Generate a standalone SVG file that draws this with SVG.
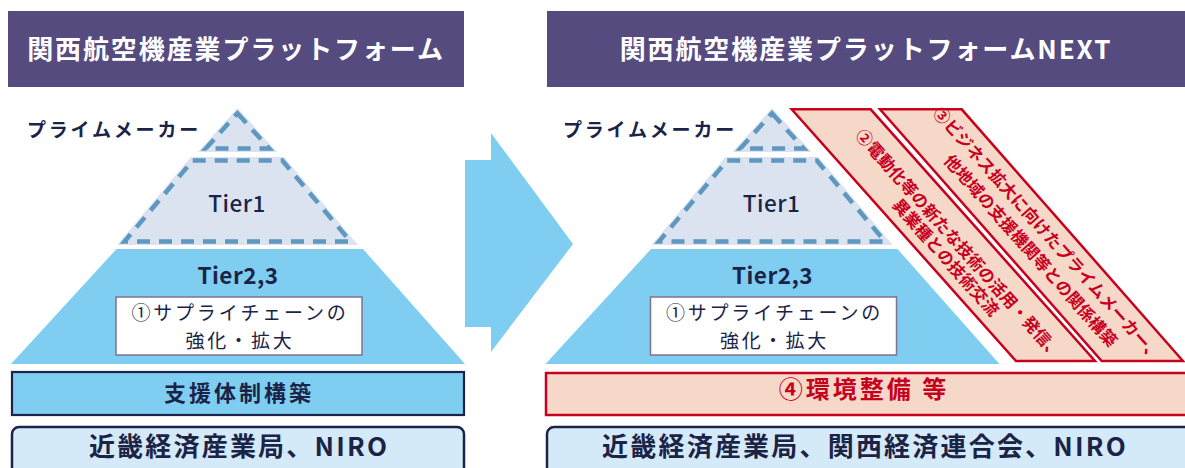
<svg xmlns="http://www.w3.org/2000/svg" width="1185" height="468" viewBox="0 0 1185 468">
<style>
text{font-family:"Noto Sans CJK JP","Noto Sans",sans-serif}
.hdr{fill:#564b7f}
.hdrt{fill:#ffffff;font-size:26px;font-weight:700;letter-spacing:1.9px;text-anchor:middle}
.pale{fill:#dae3ef}
.dash{fill:none;stroke:#5e97c0;stroke-width:4.5;stroke-dasharray:13 9;stroke-linejoin:miter}
.sky{fill:#7fcef2}
.navy{fill:#1b2447}
.pm{font-size:19px;font-weight:700;letter-spacing:2.8px}
.tier{font-size:22.5px;font-weight:500;text-anchor:middle;letter-spacing:0.5px}
.tier23{font-size:22.5px;font-weight:700;text-anchor:middle;letter-spacing:0.5px}
.wbox{fill:#ffffff;stroke:#7d7194;stroke-width:1.5}
.wt{font-size:19px;font-weight:400;text-anchor:middle;letter-spacing:2.8px}
.sup{fill:#7fcef2;stroke:#1b2447;stroke-width:2.2}
.supt{font-size:22px;font-weight:700;text-anchor:middle;letter-spacing:3px}
.org{fill:#d4eaf8;stroke:#1b2447;stroke-width:2.5}
.orgt{font-size:26px;font-weight:700;text-anchor:middle;letter-spacing:2.2px}
.band{fill:#f5d8c8;stroke:#c8001e;stroke-width:2.5;stroke-linejoin:miter}
.bt{fill:#c8001e;font-size:16.5px;font-weight:700;text-anchor:middle;letter-spacing:0.2px}
.redt{fill:#c8001e;font-size:24px;font-weight:700;text-anchor:middle;letter-spacing:3px}
</style>

<g id="header-left">
<rect class="hdr" x="8" y="11" width="456" height="76"/>
<text class="hdrt" x="236" y="59">関西航空機産業プラットフォーム</text>
</g>

<g id="header-right">
<rect class="hdr" x="547" y="11" width="645" height="76"/>
<text class="hdrt" x="866" y="59">関西航空機産業プラットフォームNEXT</text>
</g>

<g id="pyramid-left">
<g id="prime-left">
<polygon class="pale" points="237.5,108 277,152 198,152"/>
<polygon class="dash" points="237.5,113.3 269.2,148.5 205.8,148.5"/>
<text class="navy pm" x="27" y="137">プライムメーカー</text>
</g>
<g id="tier1-left">
<polygon class="pale" points="191,157 284,157 358,245 117,245"/>
<polygon class="dash" points="192.7,160.5 282.3,160.5 350.5,241.5 124.5,241.5"/>
<text class="navy tier" x="237" y="212">Tier1</text>
</g>
<g id="tier23-left">
<polygon class="sky" points="116.5,249 363,249 465,364 11,364"/>
<text class="navy tier23" x="238" y="284">Tier2,3</text>
<rect class="wbox" x="116" y="297" width="246" height="58"/>
<text class="navy wt"><tspan x="240" y="320">①サプライチェーンの</tspan><tspan x="240" y="348">強化・拡大</tspan></text>
</g>
</g>

<g id="support-left">
<rect class="sup" x="12" y="372" width="452" height="43"/>
<text class="navy supt" x="239" y="401">支援体制構築</text>
</g>

<g id="org-left">
<rect class="org" x="12" y="427" width="452" height="60" rx="7"/>
<text class="navy orgt" x="239" y="456">近畿経済産業局、NIRO</text>
</g>

<g id="connectors">
<polygon id="arrow" class="sky" points="465,160 491,160 491,133 573,244 491,352 491,327 465,327"/>
</g>

<g id="pyramid-right">
<g id="prime-right">
<polygon class="pale" points="772,108 811.5,152 732.5,152"/>
<polygon class="dash" points="772,113.3 803.7,148.5 740.3,148.5"/>
<text class="navy pm" x="563" y="137">プライムメーカー</text>
</g>
<g id="tier1-right">
<polygon class="pale" points="725.5,157 818.5,157 892.5,245 651.5,245"/>
<polygon class="dash" points="727.2,160.5 816.8,160.5 885,241.5 659,241.5"/>
<text class="navy tier" x="771.5" y="212">Tier1</text>
</g>
<g id="tier23-right">
<polygon class="sky" points="651,249 897.5,249 999.5,364 545.5,364"/>
<text class="navy tier23" x="772.5" y="284">Tier2,3</text>
<rect class="wbox" x="650.5" y="297" width="246" height="58"/>
<text class="navy wt"><tspan x="774.5" y="320">①サプライチェーンの</tspan><tspan x="774.5" y="348">強化・拡大</tspan></text>
</g>
</g>

<g id="band-2">
<polygon class="band" points="791.7,109.3 870.7,109.3 1095,361 1016,361"/>
<g transform="translate(959 244) rotate(48.3)"><text class="bt" x="0" y="6">②電動化等の新たな技術の活用・発信、</text></g>
<g transform="translate(945.8 257.5) rotate(48.3)"><text class="bt" x="0" y="6">異業種との技術交流</text></g>
</g>

<g id="band-3">
<polygon class="band" points="880,109.3 961.7,109.3 1183,361 1101.7,361"/>
<g transform="translate(1047.5 234) rotate(48.3)"><text class="bt" x="0" y="6">③ビジネス拡大に向けたプライムメーカー、</text></g>
<g transform="translate(1030.8 250.8) rotate(48.3)"><text class="bt" x="0" y="6">他地域の支援機関等との関係構築</text></g>
</g>

<g id="env-right">
<rect class="band" x="546" y="373" width="650" height="42"/>
<text class="redt" x="864" y="398">④環境整備 等</text>
</g>

<g id="org-right">
<rect class="org" x="547" y="427" width="650" height="60" rx="7"/>
<text class="navy orgt" x="865" y="456">近畿経済産業局、関西経済連合会、NIRO</text>
</g>
</svg>
